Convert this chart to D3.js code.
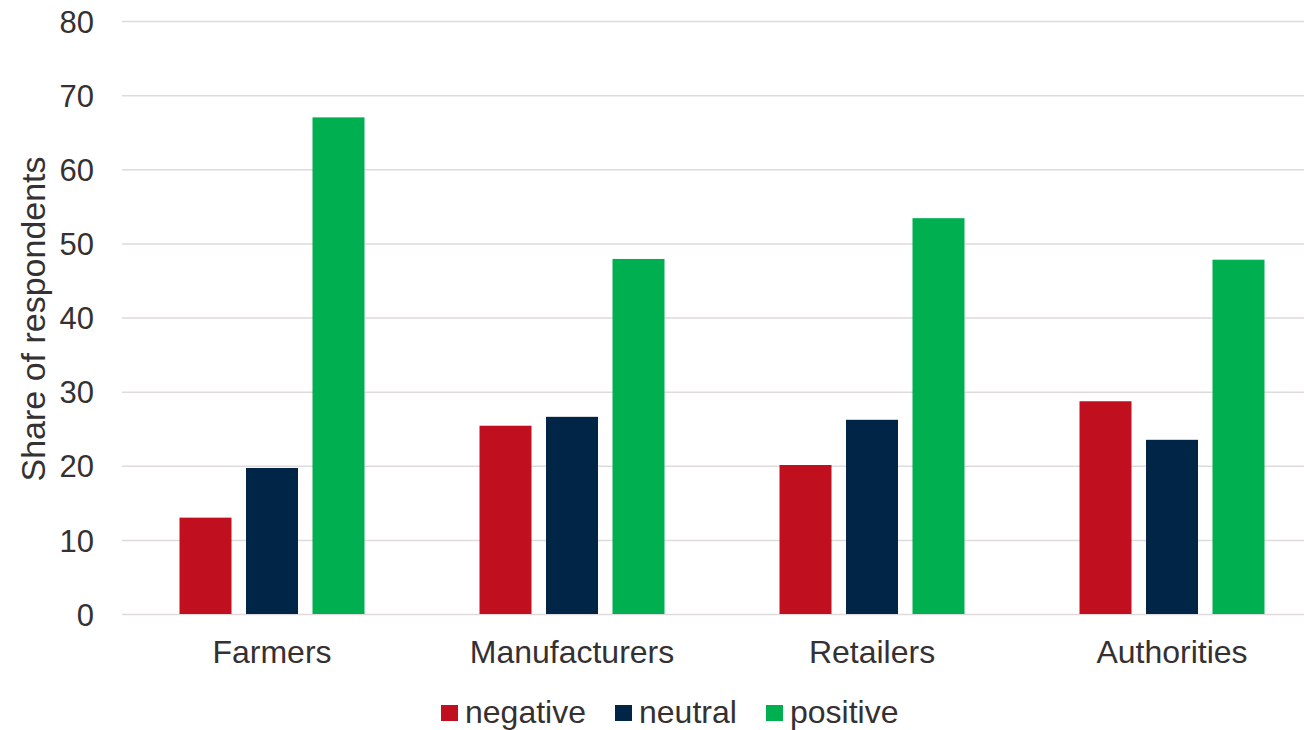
<!DOCTYPE html>
<html>
<head>
<meta charset="utf-8">
<script src="https://cdn.jsdelivr.net/npm/d3@7"></script>
<style>
  body { margin: 0; background: #fff; }
  svg { display: block; font-family: "Liberation Sans", Arial, sans-serif; }
</style>
</head>
<body>
<svg id="chart" width="1304" height="730"></svg>
<script>
// data
const categories = ['Farmers', 'Manufacturers', 'Retailers', 'Authorities'];
const seriesNames = ['negative', 'neutral', 'positive'];
const negative = [13.0, 25.4, 20.1, 28.7];
const neutral = [19.7, 26.6, 26.2, 23.5];
const positive = [67.0, 47.9, 53.4, 47.8];
const yTicks = [0, 10, 20, 30, 40, 50, 60, 70, 80];

const colors = { negative: '#c00f1e', neutral: '#002546', positive: '#00b050' };
const textColor = '#353132';
const gridColor = '#dfdadb';

const svg = d3.select('#chart');
const margin = { left: 122, top: 21, bottom: 116 };
const plotW = 1200; // runs past the right edge like the original
const plotH = 730 - margin.top - margin.bottom;

const rows = categories.map((c, i) => ({
  cat: c,
  values: { negative: negative[i], neutral: neutral[i], positive: positive[i] }
}));

const x0 = d3.scaleBand().domain(categories).range([0, plotW]);
const groupW = 185;
const x1 = d3.scaleBand().domain(seriesNames)
  .range([(x0.bandwidth() - groupW) / 2, (x0.bandwidth() + groupW) / 2])
  .paddingInner(0.218);
const y = d3.scaleLinear().domain([0, 80]).range([plotH, 0]);

const g = svg.append('g')
  .attr('transform', `translate(${margin.left},${margin.top})`);

// gridlines + tick labels
const yAxis = g.append('g')
  .call(d3.axisLeft(y).tickValues(yTicks).tickSize(-plotW).tickPadding(28));
yAxis.select('.domain').remove();
yAxis.selectAll('.tick line').attr('stroke', gridColor).attr('stroke-width', 1.5);
yAxis.selectAll('.tick text')
  .attr('fill', textColor)
  .style('font-size', '31px')
  .attr('dy', '0.36em');

// bars
const groups = g.selectAll('.group')
  .data(rows)
  .enter().append('g')
  .attr('class', 'group')
  .attr('transform', d => `translate(${x0(d.cat)},0)`);

groups.selectAll('rect')
  .data(d => seriesNames.map(s => ({ key: s, value: d.values[s] })))
  .enter().append('rect')
  .attr('x', d => x1(d.key))
  .attr('width', x1.bandwidth())
  .attr('y', d => y(d.value))
  .attr('height', d => plotH - y(d.value))
  .attr('fill', d => colors[d.key]);

// category labels
const xAxis = g.append('g')
  .attr('transform', `translate(0,${plotH})`)
  .call(d3.axisBottom(x0).tickSize(0).tickPadding(0));
xAxis.select('.domain').remove();
xAxis.selectAll('.tick text')
  .attr('fill', textColor)
  .style('font-size', '32px')
  .attr('y', 49)
  .attr('dy', 0);

// y axis title
svg.append('text')
  .attr('transform', 'translate(45,319) rotate(-90)')
  .attr('text-anchor', 'middle')
  .attr('fill', textColor)
  .style('font-size', '34px')
  .text('Share of respondents');

// legend
const legendX = [441, 615, 766];
const legend = svg.append('g');
const items = legend.selectAll('.item')
  .data(seriesNames)
  .enter().append('g')
  .attr('class', 'item')
  .attr('transform', (d, i) => `translate(${legendX[i]},705)`);
items.append('rect')
  .attr('width', 17)
  .attr('height', 16)
  .attr('fill', d => colors[d]);
items.append('text')
  .attr('x', 24)
  .attr('y', 18)
  .attr('fill', textColor)
  .style('font-size', '32px')
  .text(d => d);
</script>
</body>
</html>
